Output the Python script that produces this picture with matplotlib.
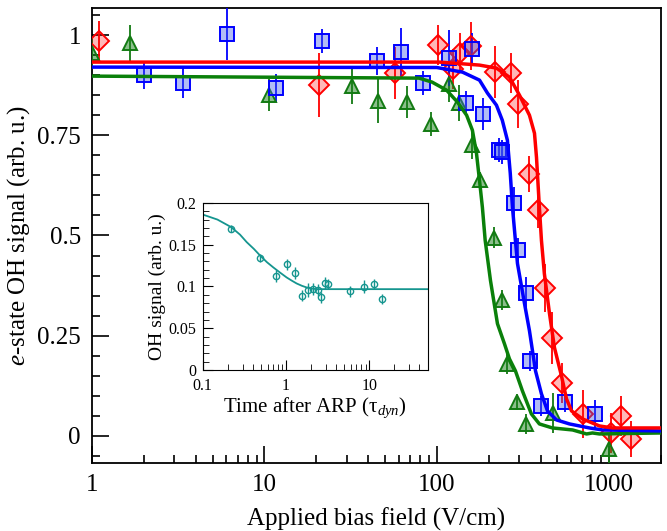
#!/usr/bin/env python3
import numpy as np
import matplotlib
matplotlib.use("Agg")
import matplotlib.pyplot as plt
from matplotlib.ticker import FixedLocator, LogLocator, NullFormatter, MultipleLocator

plt.rcParams["font.family"] = ["Liberation Serif", "DejaVu Serif"]
plt.rcParams["mathtext.fontset"] = "custom"
plt.rcParams["mathtext.rm"] = "Liberation Serif"
plt.rcParams["mathtext.it"] = "Liberation Serif:italic"

# --- main panel data (field in V/cm, signal in arb. u.) ---
red_x = [1.1, 20.8, 57.5, 102, 125, 137, 159, 219, 271, 298, 345, 389, 422, 469, 536, 701, 1019, 1165, 1331]
red_y = [0.985, 0.875, 0.905, 0.975, 0.915, 0.955, 0.9725, 0.9075, 0.905, 0.8275, 0.6525, 0.5625, 0.37, 0.245, 0.1325, 0.055, 0.0075, 0.05, -0.0075]
red_e = [0.05, 0.08, 0.065, 0.05, 0.05, 0.05, 0.06, 0.065, 0.05, 0.06, 0.045, 0.045, 0.06, 0.065, 0.05, 0.06, 0.05, 0.05, 0.045]

blue_x = [2.0, 3.38, 6.08, 11.7, 21.7, 45.2, 62.3, 83.6, 117, 147, 161, 186.6, 231, 240, 282, 298, 331, 347, 405, 558, 823]
blue_y = [0.9, 0.88, 1.0025, 0.8675, 0.985, 0.935, 0.9575, 0.88, 0.9425, 0.83, 0.965, 0.8025, 0.7125, 0.7075, 0.58, 0.465, 0.3575, 0.1875, 0.075, 0.085, 0.055]
blue_e = [0.035, 0.0375, 0.065, 0.035, 0.03, 0.035, 0.06, 0.03, 0.07, 0.03, 0.04, 0.04, 0.03, 0.03, 0.04, 0.03, 0.04, 0.025, 0.025, 0.025, 0.035]

green_x = [1.0, 1.66, 10.7, 32.3, 45.8, 67.5, 93, 117, 135, 161, 179, 216, 240, 257, 294, 331, 475, 993]
green_y = [0.955, 0.98, 0.85, 0.8725, 0.835, 0.8325, 0.7775, 0.8775, 0.83, 0.725, 0.6375, 0.495, 0.34, 0.18, 0.085, 0.03, 0.0575, -0.0325]
green_e = [0.04, 0.045, 0.04, 0.045, 0.055, 0.04, 0.03, 0.045, 0.045, 0.035, 0.02, 0.025, 0.025, 0.025, 0.02, 0.025, 0.05, 0.04]

# fitted curves
red_fx = [1, 103.5, 177, 222, 264, 302, 345, 369, 379, 394, 405, 421, 451, 482, 529, 566, 605, 701, 879, 1046, 2000]
red_fy = [0.9325, 0.9325, 0.925, 0.9175, 0.895, 0.85, 0.80, 0.755, 0.695, 0.57, 0.4875, 0.405, 0.305, 0.22, 0.15, 0.0925, 0.0625, 0.0425, 0.025, 0.02, 0.02]

blue_fx = [1, 100, 141, 177, 197, 222, 240, 257, 267, 275, 286, 294, 323, 345, 374, 405, 439, 495, 589, 673, 769, 916, 2000]
blue_fy = [0.92, 0.919, 0.9075, 0.8875, 0.855, 0.825, 0.7875, 0.7375, 0.655, 0.57, 0.4875, 0.43, 0.33, 0.2625, 0.1625, 0.105, 0.0625, 0.04, 0.03, 0.025, 0.02, 0.015, 0.0125]

green_fx = [1, 79, 94, 114, 132, 149, 161, 170, 177, 184, 191, 205, 225, 247, 264, 286, 314, 354, 394, 469, 614, 740, 800, 879, 2000]
green_fy = [0.8975, 0.8925, 0.8825, 0.8625, 0.8325, 0.80, 0.7625, 0.705, 0.6375, 0.57, 0.4875, 0.3875, 0.28, 0.23, 0.1925, 0.1625, 0.1125, 0.055, 0.03, 0.02, 0.015, 0.005, 0.0075, 0.005, 0.0075]

# --- inset data ---
ins_x = [0.219, 0.488, 0.752, 1.028, 1.294, 1.556, 1.82, 2.11, 2.40, 2.63, 2.91, 3.22, 5.86, 8.71, 11.4, 14.2]
ins_y = [0.1693, 0.1343, 0.1124, 0.1263, 0.1163, 0.0892, 0.096, 0.0968, 0.096, 0.0869, 0.1044, 0.1028, 0.094, 0.0996, 0.1024, 0.0845]
ins_e = [0.0045, 0.005, 0.007, 0.007, 0.007, 0.007, 0.008, 0.007, 0.007, 0.007, 0.007, 0.006, 0.006, 0.008, 0.006, 0.006]
ins_fx = [0.1, 0.15, 0.219, 0.28, 0.337, 0.41, 0.488, 0.59, 0.705, 0.85, 1.016, 1.17, 1.34, 1.55, 1.77, 2.05, 2.33, 50]
ins_fy = [0.186, 0.180, 0.171, 0.162, 0.153, 0.145, 0.137, 0.129, 0.1227, 0.1165, 0.1108, 0.107, 0.1036, 0.1008, 0.0988, 0.0975, 0.0968, 0.0968]

fig = plt.figure(figsize=(6.67, 5.31), dpi=100)
ax = fig.add_axes([0.138, 0.128, 0.853, 0.857])

series = [
    (red_x, red_y, red_e, "D", "#ff0000", (1, 0, 0, 0.28), 10),
    (green_x, green_y, green_e, "^", "#127a12", (0.1, 0.5, 0.1, 0.5), 10),
    (blue_x, blue_y, blue_e, "s", "#0000ff", (0.25, 0.35, 0.9, 0.4), 10),
]
for x, y, e, m, c, fc, ms in series:
    ax.errorbar(x, y, yerr=e, fmt=m, ms=ms, mfc=fc, mec=c, mew=1.4,
                ecolor=c, elinewidth=1.3, capsize=0, zorder=3)

ax.plot(green_fx, green_fy, color="#0a800a", lw=2.5, zorder=4)
ax.plot(blue_fx, blue_fy, color="#0000ff", lw=2.5, zorder=4)
ax.plot(red_fx, red_fy, color="#ff0000", lw=2.5, zorder=4)

ax.set_xscale("log")
ax.set_xlim(1, 2000)
ax.set_ylim(-0.0675, 1.0675)
ax.xaxis.set_major_locator(FixedLocator([1, 10, 100, 1000]))
ax.set_xticklabels(["1", "10", "100", "1000"])
ax.xaxis.set_minor_locator(LogLocator(base=10, subs=np.arange(2, 10)))
ax.xaxis.set_minor_formatter(NullFormatter())
ax.set_yticks([0, 0.25, 0.5, 0.75, 1])
ax.set_yticklabels(["0", "0.25", "0.5", "0.75", "1"])
ax.yaxis.set_minor_locator(MultipleLocator(0.05))
ax.tick_params(which="both", direction="in", top=False, right=False, labelsize=18, width=1.2)
ax.tick_params(which="major", length=12, pad=8)
ax.tick_params(which="minor", length=6)
for s in ax.spines.values():
    s.set_linewidth(1.3)
ax.set_xlabel("Applied bias field (V/cm)", fontsize=18, labelpad=8)
ax.set_ylabel(r"$e$-state OH signal (arb. u.)", fontsize=18, labelpad=4)

# --- inset ---
teal = "#15958f"
ins = fig.add_axes([0.304, 0.303, 0.337, 0.315])
ins.errorbar(ins_x, ins_y, yerr=ins_e, fmt="o", ms=4.5, mfc="none", mec=teal,
             mew=1.0, ecolor=teal, elinewidth=1.0, capsize=0)
ins.plot(ins_fx, ins_fy, color=teal, lw=1.3)
ins.set_xscale("log")
ins.set_xlim(0.1, 50)
ins.set_ylim(0, 0.2)
ins.xaxis.set_major_locator(FixedLocator([0.1, 1, 10]))
ins.set_xticklabels(["0.1", "1", "10"])
ins.xaxis.set_minor_locator(LogLocator(base=10, subs=np.arange(2, 10)))
ins.xaxis.set_minor_formatter(NullFormatter())
ins.set_yticks([0, 0.05, 0.1, 0.15, 0.2])
ins.set_yticklabels(["0", "0.05", "0.1", "0.15", "0.2"])
ins.yaxis.set_minor_locator(MultipleLocator(0.01))
ins.tick_params(which="both", direction="in", top=False, right=False, labelsize=11.5)
ins.tick_params(which="major", length=7)
ins.tick_params(axis="x", which="major", pad=6)
ins.tick_params(axis="y", which="major", pad=4.5)
ins.tick_params(which="minor", length=4)
ins.set_xlabel(r"Time after ARP (τ$_{dyn}$)", fontsize=15, labelpad=1)
ins.set_ylabel("OH signal (arb. u.)", fontsize=14, labelpad=2)

fig.savefig("out.png", dpi=100)
